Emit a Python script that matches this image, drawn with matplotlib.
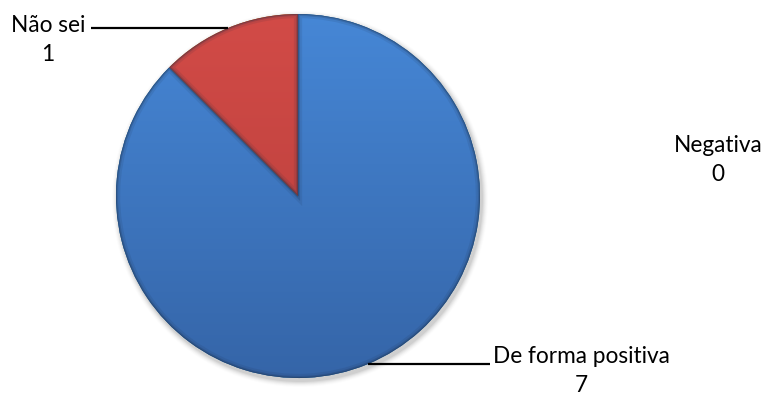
import numpy as np
import matplotlib
matplotlib.use("Agg")
import matplotlib.pyplot as plt
from matplotlib.colors import LinearSegmentedColormap

plt.rcParams['font.family'] = ['Lato', 'DejaVu Sans']

categories = ["De forma positiva", "Não sei", "Negativa"]
values = [7, 1, 0]
colors_top = ["#4687d6", "#d24b47", "#9bbb59"]
colors_bottom = ["#3565a8", "#b53d3a", "#7f9a48"]

W, H = 762, 399
fig = plt.figure(figsize=(W / 100, H / 100), dpi=100)
ax = fig.add_axes([0, 0, 1, 1])

cx, cy, r = 298, 203, 182

# soft shadow underneath the pie
for i, a in enumerate(np.linspace(0.05, 0.01, 6)):
    shadow = plt.Circle((cx + 2, cy - 3), r + 1 + i, color="black", alpha=a, lw=0, zorder=0)
    ax.add_patch(shadow)

wedges, _ = ax.pie(values, startangle=90, counterclock=False,
                   center=(cx, cy), radius=r, frame=True,
                   wedgeprops=dict(linewidth=0))
ax.set_xlim(0, W)
ax.set_ylim(0, H)
ax.set_aspect("equal")
ax.axis("off")

# vertical gradient fill clipped to each wedge
yy = np.linspace(0, 1, 256).reshape(-1, 1)
for w, ct, cb, v in zip(wedges, colors_top, colors_bottom, values):
    if v == 0:
        continue
    cmap = LinearSegmentedColormap.from_list("g", [cb, ct])
    im = ax.imshow(yy, cmap=cmap, extent=(cx - r, cx + r, cy - r, cy + r),
                   origin="lower", aspect="auto", zorder=2, interpolation="bilinear")
    im.set_clip_path(w)
    w.set_zorder(1)
    # bevelled rim
    for lw, al in [(6, 0.10), (3, 0.18), (1.2, 0.35)]:
        edge = matplotlib.patches.Wedge(w.center, w.r, w.theta1, w.theta2,
                                        fill=False, edgecolor="#1a2a40", lw=lw,
                                        alpha=al, zorder=3)
        edge.set_clip_path(w)
        ax.add_patch(edge)

# label placement
label_pos = {
    "Não sei": (48, 359),
    "De forma positiva": (581, 28),
    "Negativa": (718, 239),
}
line_ends = {
    "Não sei": 91,
    "De forma positiva": 490,
}
fs = 16.3
for w, cat, v in zip(wedges, categories, values):
    tx, ty = label_pos[cat]
    ax.text(tx, ty, f"{cat}\n{v}", ha="center", va="center", fontsize=fs,
            color="black", linespacing=1.42, zorder=5)
    if v > 0:
        mid = np.deg2rad((w.theta1 + w.theta2) / 2)
        ex, ey = cx + r * np.cos(mid), cy + r * np.sin(mid)
        ax.plot([ex, line_ends[cat]], [ey, ey], color="black", lw=1.6, zorder=5,
                solid_capstyle="butt")

fig.savefig("out.png", dpi=100, facecolor="white")
